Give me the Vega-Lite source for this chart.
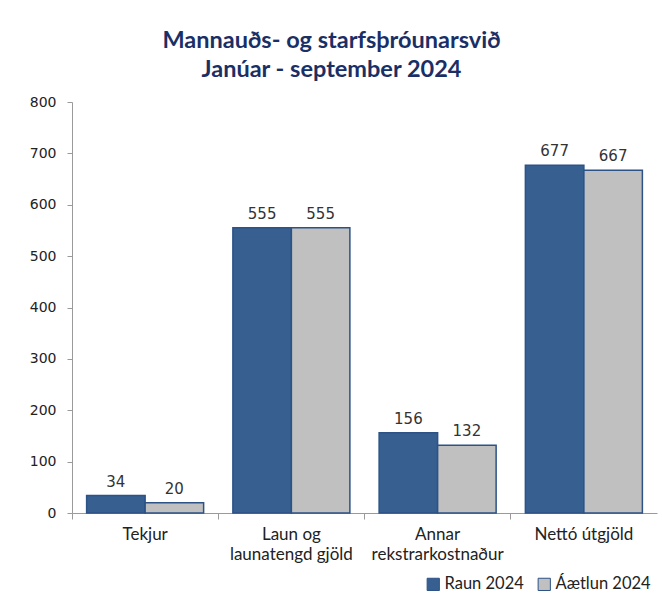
{
  "$schema": "https://vega.github.io/schema/vega-lite/v6.json",
  "autosize": {"type": "none"},
  "width": 585,
  "height": 411,
  "padding": {"left": 72, "top": 102, "right": 5, "bottom": 90},
  "background": "white",
  "title": {
    "text": ["Mannauðs- og starfsþróunarsvið", "Janúar - september 2024"],
    "font": "Lato",
    "fontSize": 23.5,
    "fontWeight": "bold",
    "color": "#1A2F66",
    "lineHeight": 29,
    "anchor": "middle",
    "dx": -33,
    "offset": 14
  },
  "data": {
    "values": [
      {"cat": "Tekjur", "series": "Raun 2024", "value": 34},
      {"cat": "Tekjur", "series": "Áætlun 2024", "value": 20},
      {"cat": "Laun og|launatengd gjöld", "series": "Raun 2024", "value": 555},
      {"cat": "Laun og|launatengd gjöld", "series": "Áætlun 2024", "value": 555},
      {"cat": "Annar|rekstrarkostnaður", "series": "Raun 2024", "value": 156},
      {"cat": "Annar|rekstrarkostnaður", "series": "Áætlun 2024", "value": 132},
      {"cat": "Nettó útgjöld", "series": "Raun 2024", "value": 677},
      {"cat": "Nettó útgjöld", "series": "Áætlun 2024", "value": 667}
    ]
  },
  "encoding": {
    "x": {
      "field": "cat",
      "type": "nominal",
      "sort": null,
      "scale": {"paddingInner": 0, "paddingOuter": 0},
      "axis": {
        "title": null,
        "labelAngle": 0,
        "labelExpr": "split(datum.label, '|')",
        "bandPosition": 0,
        "tickSize": 6,
        "tickColor": "#9a9a9a",
        "domainColor": "#9a9a9a",
        "labelFont": "Lato",
        "labelFontSize": 17,
        "labelColor": "#222222",
        "labelPadding": 7,
        "labelLineHeight": 20
      }
    },
    "xOffset": {
      "field": "series",
      "type": "nominal",
      "sort": ["Raun 2024", "Áætlun 2024"],
      "scale": {"paddingInner": 0, "paddingOuter": 0.25}
    },
    "y": {
      "field": "value",
      "type": "quantitative",
      "scale": {"domain": [0, 800]},
      "axis": {
        "title": null,
        "values": [0, 100, 200, 300, 400, 500, 600, 700, 800],
        "grid": false,
        "tickSize": 5,
        "tickColor": "#9a9a9a",
        "domainColor": "#9a9a9a",
        "labelFont": "DejaVu Sans",
        "labelFontSize": 14,
        "labelColor": "#222222",
        "labelPadding": 11
      }
    }
  },
  "layer": [
    {
      "mark": {"type": "bar", "stroke": "#2C5286", "strokeWidth": 1.5},
      "encoding": {
        "color": {
          "field": "series",
          "type": "nominal",
          "sort": ["Raun 2024", "Áætlun 2024"],
          "scale": {"domain": ["Raun 2024", "Áætlun 2024"], "range": ["#375F90", "#C0C0C0"]},
          "legend": {
            "title": null,
            "orient": "none",
            "direction": "horizontal",
            "legendX": 353,
            "legendY": 474,
            "symbolType": "square",
            "symbolSize": 150,
            "symbolStrokeColor": "#2C5286",
            "symbolStrokeWidth": 1,
            "labelFont": "Lato",
            "labelFontSize": 16.5,
            "labelColor": "#222222",
            "columnPadding": 12,
            "labelOffset": 3
          }
        }
      }
    },
    {
      "mark": {"type": "text", "dy": -14, "font": "DejaVu Sans", "fontSize": 15, "color": "#333333"},
      "encoding": {
        "text": {"field": "value", "type": "quantitative"}
      }
    }
  ],
  "config": {"view": {"stroke": null}}
}
